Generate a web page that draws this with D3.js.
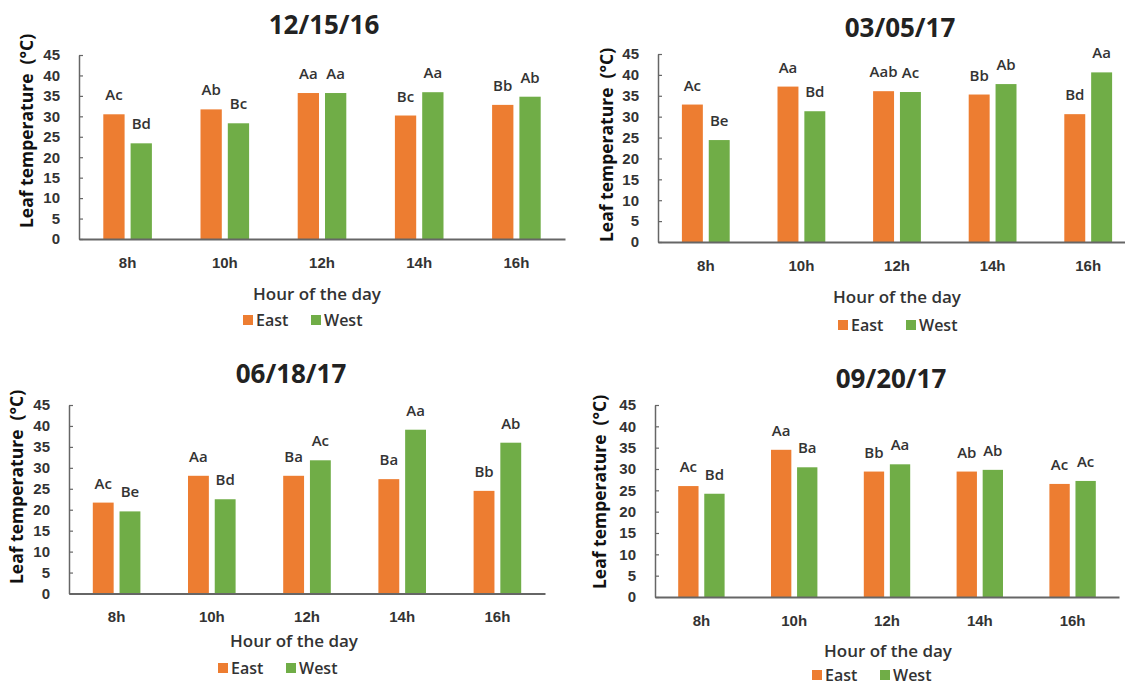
<!DOCTYPE html>
<html>
<head>
<meta charset="utf-8">
<script src="https://cdn.jsdelivr.net/npm/d3@7"></script>
<style>
  body { margin: 0; background: #fff; }
  svg { display: block; font-family: "Open Sans", "Liberation Sans", sans-serif; }
  .axis path, .axis line { stroke: #666; }
  .axis text { fill: #333; font-size: 15px; font-weight: 600; }
</style>
</head>
<body>
<div id="chart"></div>
<script>
// data
var hours = ["8h", "10h", "12h", "14h", "16h"];
var series = ["East", "West"];
var yTicks = [0, 5, 10, 15, 20, 25, 30, 35, 40, 45];
var dates = ["12/15/16", "03/05/17", "06/18/17", "09/20/17"];

var east1215 = [30.5, 31.7, 35.7, 30.2, 32.8];
var west1215 = [23.4, 28.3, 35.7, 35.9, 34.8];
var east0305 = [32.9, 37.2, 36.1, 35.3, 30.6];
var west0305 = [24.4, 31.3, 35.9, 37.8, 40.6];
var east0618 = [21.7, 28.1, 28.1, 27.3, 24.5];
var west0618 = [19.6, 22.5, 31.8, 39.1, 36.0];
var east0920 = [26.0, 34.5, 29.4, 29.4, 26.5];
var west0920 = [24.2, 30.4, 31.1, 29.8, 27.2];

var eastLetters1215 = ["Ac", "Ab", "Aa", "Bc", "Bb"];
var westLetters1215 = ["Bd", "Bc", "Aa", "Aa", "Ab"];
var eastLetters0305 = ["Ac", "Aa", "Aab", "Bb", "Bd"];
var westLetters0305 = ["Be", "Bd", "Ac", "Ab", "Aa"];
var eastLetters0618 = ["Ac", "Aa", "Ba", "Ba", "Bb"];
var westLetters0618 = ["Be", "Bd", "Ac", "Aa", "Ab"];
var eastLetters0920 = ["Ac", "Aa", "Bb", "Ab", "Ac"];
var westLetters0920 = ["Bd", "Ba", "Aa", "Ab", "Ac"];

var colors = { East: "#ED7D31", West: "#70AD47" };

var width = 1125, height = 685;

// layout of each panel (pixel positions in the page)
var panels = [
  { east: east1215, west: west1215, eL: eastLetters1215, wL: westLetters1215,
    x: [79, 565], y: [239, 55], titleX: 324, titleY: 34, ytX: 27, ytY: 131,
    hodX: 317, hodY: 300, legX: 303, legY: 320 },
  { east: east0305, west: west0305, eL: eastLetters0305, wL: westLetters0305,
    x: [658, 1136], y: [242, 54], titleX: 900, titleY: 37, ytX: 607, ytY: 145,
    hodX: 897, hodY: 303, legX: 898, legY: 325 },
  { east: east0618, west: west0618, eL: eastLetters0618, wL: westLetters0618,
    x: [69, 545], y: [593.5, 405], titleX: 291, titleY: 383, ytX: 17, ytY: 487,
    hodX: 294, hodY: 647, legX: 278, legY: 668 },
  { east: east0920, west: west0920, eL: eastLetters0920, wL: westLetters0920,
    x: [655, 1119], y: [597, 405], titleX: 891, titleY: 388, ytX: 600, ytY: 492,
    hodX: 888, hodY: 657, legX: 872, legY: 675 }
];

var svg = d3.select("#chart").append("svg")
    .attr("width", width)
    .attr("height", height);

panels.forEach(function(p, i) {
  var g = svg.append("g");

  var x0 = d3.scaleBand()
      .domain(hours)
      .range(p.x)
      .paddingInner(0.5)
      .paddingOuter(0.25);

  var x1 = d3.scaleBand()
      .domain(series)
      .range([0, x0.bandwidth()])
      .paddingInner(0.22);

  var y = d3.scaleLinear()
      .domain([0, 45])
      .range(p.y);

  var rows = hours.map(function(h, k) {
    return { hour: h, vals: [
      { s: "East", v: p.east[k], lab: p.eL[k] },
      { s: "West", v: p.west[k], lab: p.wL[k] }
    ] };
  });

  var grp = g.selectAll(".grp")
      .data(rows)
      .enter().append("g")
      .attr("transform", function(d) { return "translate(" + x0(d.hour) + ",0)"; });

  grp.selectAll("rect")
      .data(function(d) { return d.vals; })
      .enter().append("rect")
      .attr("x", function(d) { return x1(d.s); })
      .attr("y", function(d) { return y(d.v); })
      .attr("width", x1.bandwidth())
      .attr("height", function(d) { return y(0) - y(d.v); })
      .attr("fill", function(d) { return colors[d.s]; });

  // significance letters above the bars
  grp.selectAll("text")
      .data(function(d) { return d.vals; })
      .enter().append("text")
      .attr("x", function(d) { return x1(d.s) + x1.bandwidth() / 2; })
      .attr("y", function(d) { return y(d.v) - 14; })
      .attr("text-anchor", "middle")
      .style("font-size", "15px")
      .style("font-weight", 600)
      .style("fill", "#333")
      .text(function(d) { return d.lab; });

  // x axis: just the line and hour labels
  g.append("g")
      .attr("class", "axis")
      .attr("transform", "translate(0," + y(0) + ")")
      .call(d3.axisBottom(x0).tickSize(0).tickPadding(18))
      .select(".domain").attr("stroke-width", 2);

  // y axis with short ticks pointing into the plot
  g.append("g")
      .attr("class", "axis")
      .attr("transform", "translate(" + p.x[0] + ",0)")
      .call(d3.axisLeft(y).tickValues(yTicks).tickSizeInner(-4).tickSizeOuter(0).tickPadding(19))
      .call(function(a) { a.select(".domain").attr("stroke-width", 1.5); })
      .selectAll(".tick line").attr("stroke-width", 1.2);

  g.append("text")
      .attr("x", p.titleX)
      .attr("y", p.titleY)
      .attr("text-anchor", "middle")
      .style("font-size", "26px")
      .style("font-weight", 700)
      .style("fill", "#222")
      .text(dates[i]);

  g.append("text")
      .attr("transform", "translate(" + p.ytX + "," + p.ytY + ")rotate(-90)")
      .attr("dy", "0.35em")
      .attr("text-anchor", "middle")
      .style("font-size", "17.5px")
      .style("font-weight", 700)
      .style("fill", "#111")
      .style("white-space", "pre")
      .text("Leaf temperature  (°C)");

  g.append("text")
      .attr("x", p.hodX)
      .attr("y", p.hodY)
      .attr("text-anchor", "middle")
      .style("font-size", "17px")
      .style("font-weight", 600)
      .style("fill", "#333")
      .text("Hour of the day");

  // legend
  var leg = g.selectAll(".leg")
      .data(series)
      .enter().append("g")
      .attr("transform", function(d, k) {
        return "translate(" + (p.legX - 60 + k * 68) + "," + p.legY + ")";
      });

  leg.append("rect")
      .attr("x", 0)
      .attr("y", -5)
      .attr("width", 10)
      .attr("height", 10)
      .attr("fill", function(d) { return colors[d]; });

  leg.append("text")
      .attr("x", 13)
      .attr("y", 5.5)
      .style("font-size", "16px")
      .style("font-weight", 600)
      .style("fill", "#333")
      .text(function(d) { return d; });
});
</script>
</body>
</html>
